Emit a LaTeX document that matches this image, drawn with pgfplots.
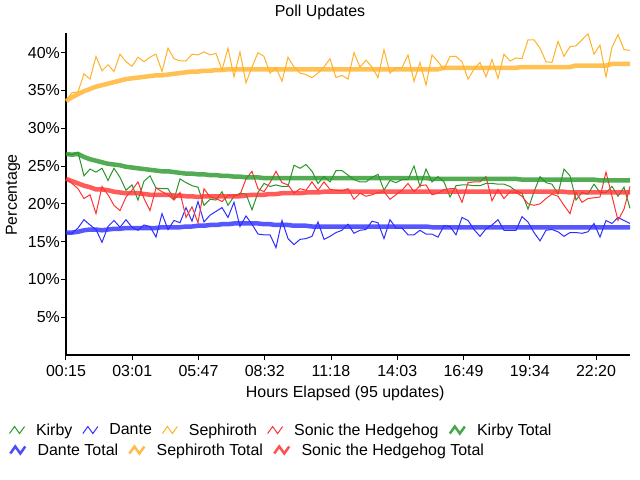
\documentclass[border=0pt]{standalone}
\usepackage{fontspec}
\setmainfont{Liberation Sans}
\usepackage{pgfplots}
\pgfplotsset{compat=1.18}
\usepackage{pgfplotstable}
\definecolor{kirbyc}{RGB}{40,150,40}
\definecolor{dantec}{RGB}{45,45,255}
\definecolor{sephc}{RGB}{255,178,40}
\definecolor{sonicc}{RGB}{255,50,50}

\pgfplotstableread{
i kirby dante seph sonic kt dt st sot
0 26.6 16.2 33.6 23.3 26.6 16.2 33.6 23.3
1 26.5 16.1 34.7 22.7 26.5 16.2 34.1 23.0
2 26.8 16.8 34.8 22.0 26.6 16.3 34.5 22.7
3 23.7 17.9 37.2 20.7 26.2 16.5 34.9 22.4
4 24.6 17.2 36.5 21.2 25.9 16.6 35.2 22.2
5 24.2 16.6 39.5 18.7 25.7 16.6 35.5 21.9
6 24.7 14.9 37.6 22.3 25.5 16.5 35.7 21.9
7 23.1 17.0 38.4 21.2 25.3 16.6 35.9 21.8
8 24.7 17.8 37.5 19.8 25.2 16.7 36.1 21.6
9 23.5 16.9 39.8 19.1 25.1 16.7 36.3 21.5
10 21.8 17.9 38.8 20.9 24.9 16.8 36.5 21.4
11 22.5 16.9 38.2 21.8 24.8 16.8 36.6 21.4
12 20.5 16.5 39.4 22.9 24.7 16.8 36.7 21.4
13 23.0 17.2 38.8 20.7 24.6 16.8 36.8 21.3
14 23.7 17.0 39.4 19.1 24.5 16.8 36.9 21.2
15 22.1 15.6 39.8 22.1 24.4 16.8 37.0 21.2
16 22.0 18.7 37.5 21.6 24.3 16.9 37.0 21.2
17 22.0 16.6 40.6 21.2 24.3 16.9 37.1 21.2
18 20.6 17.8 39.2 20.5 24.2 16.9 37.2 21.1
19 23.3 17.5 38.9 21.5 24.1 16.9 37.3 21.1
20 22.8 19.5 38.9 18.2 24.0 17.0 37.4 21.0
21 22.4 17.7 39.8 19.6 24.0 17.0 37.5 21.0
22 22.2 20.3 39.7 17.5 23.9 17.1 37.5 20.9
23 19.8 17.6 40.1 22.0 23.9 17.1 37.6 21.0
24 20.6 18.5 39.7 20.9 23.8 17.2 37.6 21.0
25 20.5 19.0 39.9 20.7 23.8 17.2 37.7 21.0
26 21.6 19.5 37.7 20.3 23.7 17.3 37.7 21.0
27 19.8 18.2 40.6 21.1 23.7 17.3 37.8 21.0
28 21.0 20.2 36.8 21.2 23.6 17.4 37.8 21.0
29 21.4 17.0 40.1 21.2 23.6 17.4 37.8 21.0
30 21.3 18.4 36.0 23.3 23.5 17.4 37.8 21.1
31 19.2 17.3 38.1 24.3 23.5 17.4 37.8 21.2
32 21.5 16.0 40.0 22.0 23.5 17.4 37.8 21.2
33 22.7 15.9 39.5 21.6 23.4 17.3 37.8 21.2
34 22.3 15.9 37.3 22.8 23.4 17.3 37.8 21.3
35 22.5 14.2 38.0 24.3 23.4 17.2 37.8 21.3
36 22.3 17.8 36.2 22.8 23.4 17.2 37.8 21.4
37 22.3 15.4 39.4 22.5 23.4 17.2 37.8 21.4
38 25.1 14.6 38.1 21.4 23.4 17.1 37.8 21.4
39 24.7 15.3 37.3 22.0 23.4 17.1 37.8 21.4
40 25.2 15.4 37.1 21.8 23.4 17.1 37.8 21.5
41 24.3 15.7 36.7 22.9 23.4 17.0 37.8 21.5
42 22.7 17.6 37.3 21.8 23.4 17.0 37.8 21.5
43 23.6 15.3 38.1 22.9 23.4 17.0 37.8 21.6
44 22.9 15.7 39.2 21.9 23.4 17.0 37.8 21.6
45 24.4 16.2 36.7 21.8 23.4 17.0 37.8 21.6
46 24.4 16.5 37.0 21.7 23.4 17.0 37.8 21.6
47 23.8 17.3 36.5 22.0 23.4 17.0 37.8 21.6
48 23.2 16.1 40.0 20.6 23.4 17.0 37.8 21.6
49 22.9 16.5 38.1 21.4 23.4 17.0 37.8 21.6
50 22.9 16.6 39.0 21.0 23.4 17.0 37.8 21.6
51 23.5 17.7 38.1 21.2 23.4 17.0 37.8 21.6
52 23.9 17.5 36.7 21.5 23.4 17.0 37.8 21.6
53 21.8 15.4 40.4 21.6 23.4 17.0 37.8 21.6
54 23.1 17.9 37.3 20.6 23.4 17.0 37.8 21.6
55 22.8 16.8 38.0 21.2 23.4 17.0 37.8 21.6
56 23.2 16.8 38.0 21.8 23.4 17.0 37.8 21.6
57 23.2 15.9 39.7 22.7 23.4 17.0 37.8 21.6
58 25.0 15.9 36.2 21.6 23.4 17.0 37.8 21.6
59 22.3 16.5 38.7 22.4 23.4 17.0 37.8 21.6
60 24.6 16.0 35.7 22.5 23.4 17.0 37.8 21.6
61 22.9 16.0 39.7 21.2 23.3 16.9 37.8 21.6
62 23.6 15.6 38.8 21.4 23.3 16.9 37.8 21.6
63 22.9 17.1 37.8 21.9 23.3 16.9 38.0 21.6
64 20.9 17.0 39.5 22.0 23.3 16.9 38.0 21.6
65 22.4 15.9 39.5 22.0 23.3 16.9 38.0 21.6
66 22.5 18.2 38.8 20.2 23.3 16.9 38.0 21.6
67 22.5 17.8 36.5 22.8 23.3 16.9 38.0 21.6
68 22.4 16.6 37.8 22.9 23.3 16.9 38.0 21.6
69 22.4 15.7 38.7 22.9 23.3 16.9 38.0 21.6
70 22.7 16.7 36.8 23.6 23.3 16.9 38.0 21.6
71 22.7 17.2 39.1 20.4 23.3 16.9 38.0 21.6
72 22.6 17.9 36.6 21.9 23.3 16.9 38.0 21.6
73 22.6 16.5 39.8 20.7 23.3 16.9 38.0 21.6
74 22.3 16.5 38.9 21.6 23.3 16.9 38.0 21.6
75 21.7 16.5 39.3 21.5 23.3 16.9 38.0 21.6
76 21.4 18.3 39.2 21.0 23.2 16.9 38.1 21.6
77 19.3 17.6 41.7 20.0 23.2 16.9 38.1 21.6
78 21.6 16.2 41.7 19.8 23.2 16.9 38.1 21.6
79 23.6 15.1 40.6 20.0 23.2 16.9 38.1 21.6
80 22.8 16.5 38.8 20.7 23.2 16.9 38.1 21.6
81 22.6 16.6 38.7 21.3 23.2 16.9 38.1 21.6
82 21.3 16.3 41.5 21.0 23.2 16.9 38.1 21.6
83 24.6 15.7 39.5 19.8 23.2 16.9 38.1 21.6
84 23.7 16.2 40.8 18.7 23.2 16.9 38.1 21.5
85 20.5 16.2 40.9 21.5 23.2 16.9 38.3 21.5
86 21.5 16.1 41.7 20.2 23.2 16.9 38.3 21.5
87 21.3 16.3 42.5 20.7 23.2 16.9 38.3 21.5
88 22.6 17.4 39.8 20.8 23.2 16.9 38.3 21.5
89 21.5 15.6 41.0 20.9 23.1 16.9 38.3 21.5
90 21.5 17.8 36.8 24.2 23.1 16.9 38.3 21.5
91 22.3 17.4 40.7 21.0 23.1 16.9 38.5 21.5
92 21.0 18.2 42.4 17.8 23.1 16.9 38.5 21.5
93 22.2 17.8 40.4 19.3 23.1 16.9 38.5 21.5
94 19.4 17.4 40.3 22.3 23.1 16.9 38.5 21.5
}\polldata

\pgfplotsset{
  pollleg/.style={
    legend columns=-1,
    legend style={draw=none, fill=none, inner sep=0pt, outer sep=0pt,
      anchor=west, legend cell align=left,
      nodes={inner sep=0pt},
      /tikz/every odd column/.append style={column sep=11bp},
      /tikz/every even column/.append style={column sep=10bp}},
    legend image code/.code={\draw[##1] (0bp,-3.5bp) -- (5bp,3.5bp) -- (10bp,-3.5bp) -- (15bp,3.5bp);},
  },
}

\begin{document}
\begin{tikzpicture}[font=\fontsize{16}{19}\selectfont]
\useasboundingbox (-66bp,-125bp) rectangle (574bp,355bp);
\node[anchor=center, inner sep=0pt] at (254bp,343bp) {Poll Updates};
\begin{axis}[
  at={(0,0)}, anchor=south west,
  scale only axis, width=564bp, height=322bp,
  xmin=0, xmax=94, ymin=0, ymax=42.6,
  axis lines=left,
  axis line style={-, black, line width=1.2bp},
  tick style={black, line width=1bp},
  tick align=outside, major tick length=5bp,
  xtick={0,11.042,22.083,33.125,44.167,55.208,66.25,77.292,88.333},
  xticklabels={00:15,03:01,05:47,08:32,11:18,14:03,16:49,19:34,22:20},
  ytick={5,10,15,20,25,30,35,40},
  yticklabels={5\%,10\%,15\%,20\%,25\%,30\%,35\%,40\%},
  xticklabel style={inner sep=0pt, anchor=base, yshift=-16bp},
  yticklabel style={inner sep=0pt, anchor=east, xshift=-1bp},
  xlabel={Hours Elapsed (95 updates)},
  xlabel style={at={(axis description cs:0.495,-0.118)}, anchor=center, inner sep=0pt},
  ylabel={Percentage},
  ylabel style={at={(axis description cs:-0.094,0.497)}, anchor=center, inner sep=0pt},
  pollleg,
  legend style={at={(axis description cs:-0.101,-0.233)}},
  clip=false,
]
\addplot[kirbyc, line width=1bp] table[x=i, y=kirby] {\polldata};
\addlegendentry{Kirby}
\addplot[dantec, line width=1bp] table[x=i, y=dante] {\polldata};
\addlegendentry{Dante}
\addplot[sephc, line width=1bp] table[x=i, y=seph] {\polldata};
\addlegendentry{Sephiroth}
\addplot[sonicc, line width=1bp] table[x=i, y=sonic] {\polldata};
\addlegendentry{Sonic the Hedgehog}
\addlegendimage{kirbyc, line width=2.5bp, opacity=0.85}
\addlegendentry{Kirby Total}
\addplot[kirbyc, line width=4.5bp, opacity=0.8, forget plot] table[x=i, y=kt] {\polldata};
\addplot[dantec, line width=4.5bp, opacity=0.8, forget plot] table[x=i, y=dt] {\polldata};
\addplot[sephc, line width=4.5bp, opacity=0.8, forget plot] table[x=i, y=st] {\polldata};
\addplot[sonicc, line width=4.5bp, opacity=0.8, forget plot] table[x=i, y=sot] {\polldata};
\end{axis}
\begin{axis}[
  at={(0,0)}, anchor=south west,
  scale only axis, width=564bp, height=322bp,
  xmin=0, xmax=1, ymin=0, ymax=1, hide axis,
  pollleg,
  legend style={at={(axis description cs:-0.101,-0.295)}},
]
\addlegendimage{dantec, line width=2.5bp, opacity=0.85}
\addlegendentry{Dante Total}
\addlegendimage{sephc, line width=2.5bp, opacity=0.85}
\addlegendentry{Sephiroth Total}
\addlegendimage{sonicc, line width=2.5bp, opacity=0.85}
\addlegendentry{Sonic the Hedgehog Total}
\end{axis}
\end{tikzpicture}
\end{document}
